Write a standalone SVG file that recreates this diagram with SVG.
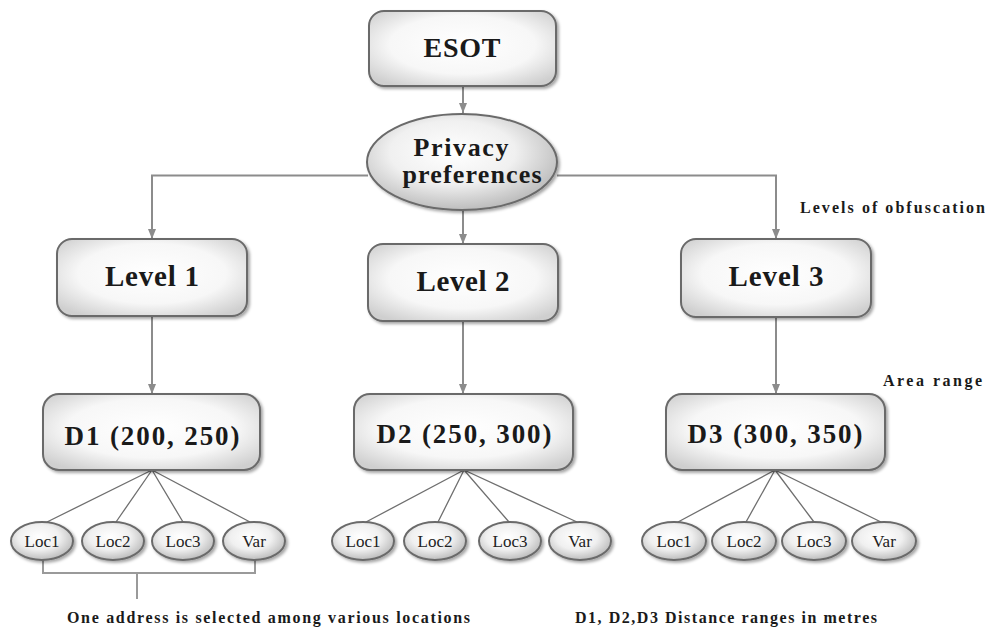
<svg xmlns="http://www.w3.org/2000/svg" width="985" height="628" viewBox="0 0 985 628">
<defs>
<radialGradient id="g" cx="50%" cy="45%" r="65%">
<stop offset="0" stop-color="#ffffff"/>
<stop offset="0.6" stop-color="#f7f7f7"/>
<stop offset="1" stop-color="#cfcfcf"/>
</radialGradient>
<radialGradient id="ge" cx="45%" cy="40%" r="60%">
<stop offset="0" stop-color="#ffffff"/>
<stop offset="0.55" stop-color="#f0f0f0"/>
<stop offset="1" stop-color="#bdbdbd"/>
</radialGradient>
<filter id="sh" x="-10%" y="-10%" width="125%" height="130%">
<feDropShadow dx="2" dy="2" stdDeviation="1.5" flood-color="#000" flood-opacity="0.35"/>
</filter>
<marker id="ah" viewBox="0 0 10 8" refX="10" refY="4" markerWidth="10" markerHeight="8" markerUnits="userSpaceOnUse" orient="auto">
<path d="M0,0 L10,4 L0,8 Z" fill="#8c8c8c"/>
</marker>
</defs>
<style>
.box{fill:url(#g);stroke:#6a6a6a;stroke-width:2;filter:url(#sh)}
.ell{fill:url(#ge);stroke:#6a6a6a;stroke-width:2;filter:url(#sh)}
.loc{fill:url(#ge);stroke:#6a6a6a;stroke-width:2;filter:url(#sh)}
.t{font-family:"Liberation Serif","Times New Roman",serif;font-weight:bold;fill:#1a1a1a;text-anchor:middle}
.lt{font-family:"Liberation Serif","Times New Roman",serif;font-size:17px;fill:#222;text-anchor:middle}
.lab{font-family:"Liberation Serif","Times New Roman",serif;font-weight:bold;font-size:16px;fill:#1a1a1a}
.arr{fill:none;stroke:#8c8c8c;stroke-width:2;marker-end:url(#ah)}
.ln{fill:none;stroke:#6f6f6f;stroke-width:1.3}
.br{fill:none;stroke:#9a9a9a;stroke-width:2}
</style>

<g id="connectors">
<path class="arr" d="M463,86 V113"/>
<path class="arr" d="M368,175.5 H152 V239"/>
<path class="arr" d="M557,175.5 H776 V239"/>
<path class="arr" d="M463,210 V244"/>
<path class="arr" d="M152,316 V394"/>
<path class="arr" d="M463,321 V394"/>
<path class="arr" d="M776,317 V394"/>
<path class="ln" d="M152,470 L47,522 M152,470 L116,522 M152,470 L183,522 M152,470 L250,522"/>
<path class="ln" d="M464,470 L366,522 M464,470 L438,522 M464,470 L509,522 M464,470 L577,522"/>
<path class="ln" d="M775,470 L678,522 M775,470 L746,522 M775,470 L814,522 M775,470 L881,522"/>
<path class="br" d="M43,560 V573 H255 V560 M137,573 V599"/>
</g>

<g id="esot"><rect class="box" x="369" y="11" width="187" height="75" rx="15"/><text class="t" x="462" y="57" font-size="28" textLength="77" lengthAdjust="spacing">ESOT</text></g>

<g id="privacy"><ellipse class="ell" cx="462" cy="162" rx="95" ry="48"/><text class="t" x="461" y="156" font-size="26" textLength="95" lengthAdjust="spacing">Privacy</text><text class="t" x="472" y="183" font-size="26" textLength="139" lengthAdjust="spacing">preferences</text></g>

<g id="level1"><rect class="box" x="57" y="239" width="190" height="77" rx="15"/><text class="t" x="152" y="286" font-size="29" textLength="94" lengthAdjust="spacing">Level 1</text></g>
<g id="level2"><rect class="box" x="368" y="244" width="190" height="77" rx="15"/><text class="t" x="463" y="291" font-size="29" textLength="93" lengthAdjust="spacing">Level 2</text></g>
<g id="level3"><rect class="box" x="681" y="239" width="190" height="78" rx="15"/><text class="t" x="776" y="286" font-size="29" textLength="95" lengthAdjust="spacing">Level 3</text></g>

<g id="d1"><rect class="box" x="43" y="394" width="217" height="76" rx="16"/><text class="t" x="152" y="445" font-size="27" textLength="175" lengthAdjust="spacing">D1 (200, 250)</text></g>
<g id="d2"><rect class="box" x="354" y="394" width="219" height="76" rx="16"/><text class="t" x="464" y="443" font-size="27" textLength="175" lengthAdjust="spacing">D2 (250, 300)</text></g>
<g id="d3"><rect class="box" x="666" y="394" width="219" height="76" rx="16"/><text class="t" x="775" y="443" font-size="27" textLength="175" lengthAdjust="spacing">D3 (300, 350)</text></g>

<g id="d1-loc1"><ellipse class="loc" cx="42" cy="541" rx="31" ry="19"/><text class="lt" x="42" y="547">Loc1</text></g>
<g id="d1-loc2"><ellipse class="loc" cx="113" cy="541" rx="31" ry="19"/><text class="lt" x="113" y="547">Loc2</text></g>
<g id="d1-loc3"><ellipse class="loc" cx="183" cy="541" rx="31" ry="19"/><text class="lt" x="183" y="547">Loc3</text></g>
<g id="d1-var"><ellipse class="loc" cx="254" cy="541" rx="31" ry="19"/><text class="lt" x="254" y="547">Var</text></g>

<g id="d2-loc1"><ellipse class="loc" cx="363" cy="541" rx="31" ry="19"/><text class="lt" x="363" y="547">Loc1</text></g>
<g id="d2-loc2"><ellipse class="loc" cx="435" cy="541" rx="31" ry="19"/><text class="lt" x="435" y="547">Loc2</text></g>
<g id="d2-loc3"><ellipse class="loc" cx="510" cy="541" rx="31" ry="19"/><text class="lt" x="510" y="547">Loc3</text></g>
<g id="d2-var"><ellipse class="loc" cx="580" cy="541" rx="31" ry="19"/><text class="lt" x="580" y="547">Var</text></g>

<g id="d3-loc1"><ellipse class="loc" cx="674" cy="541" rx="32" ry="19"/><text class="lt" x="674" y="547">Loc1</text></g>
<g id="d3-loc2"><ellipse class="loc" cx="744" cy="541" rx="32" ry="19"/><text class="lt" x="744" y="547">Loc2</text></g>
<g id="d3-loc3"><ellipse class="loc" cx="814" cy="541" rx="32" ry="19"/><text class="lt" x="814" y="547">Loc3</text></g>
<g id="d3-var"><ellipse class="loc" cx="884" cy="541" rx="32" ry="19"/><text class="lt" x="884" y="547">Var</text></g>

<g id="labels">
<text class="lab" x="800" y="213" textLength="185" lengthAdjust="spacing">Levels of obfuscation</text>
<text class="lab" x="883" y="386" textLength="99" lengthAdjust="spacing">Area range</text>
<text class="lab" x="67" y="623" textLength="403" lengthAdjust="spacing">One address is selected among various locations</text>
<text class="lab" x="575" y="623" textLength="302" lengthAdjust="spacing">D1, D2,D3 Distance ranges in metres</text>
</g>
</svg>
